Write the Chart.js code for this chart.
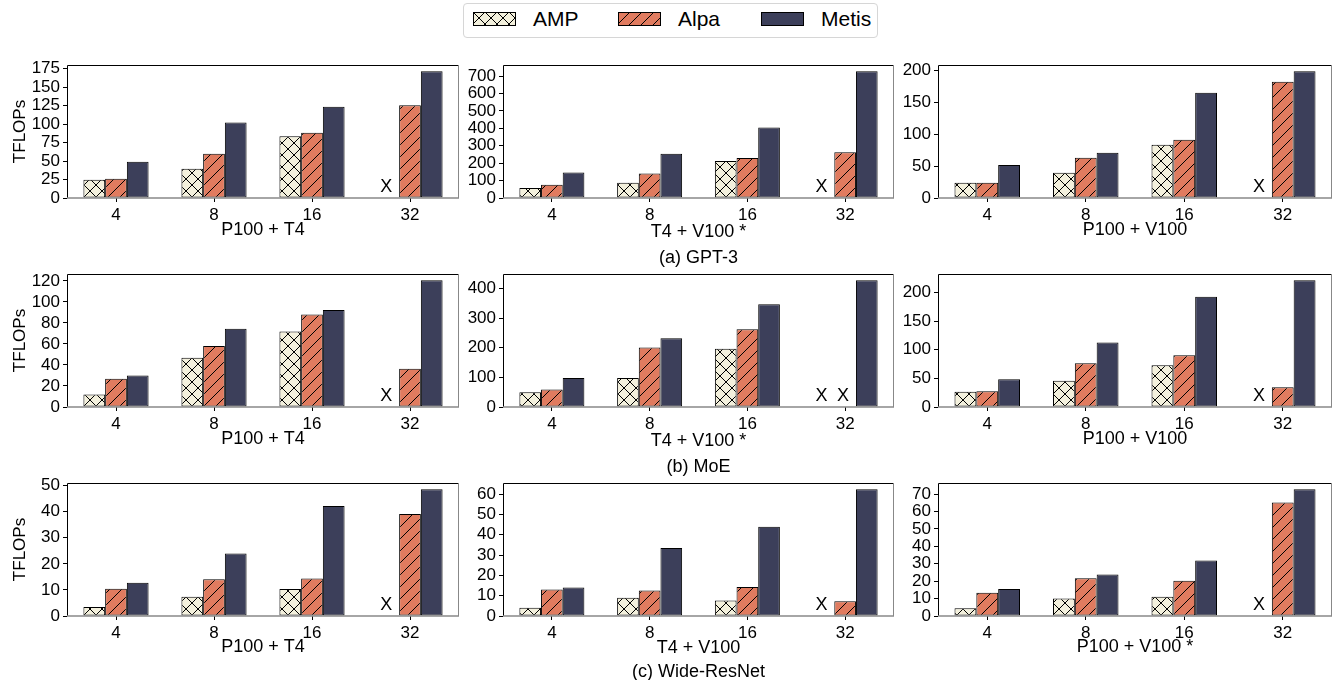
<!DOCTYPE html>
<html>
<head>
<meta charset="utf-8">
<script src="https://cdn.jsdelivr.net/npm/chart.js@4.4.1/dist/chart.umd.min.js"></script>
<style>
  body { margin: 0; background: #fff; }
  #page { position: relative; width: 1336px; height: 680px; overflow: hidden; font-family: "Liberation Sans", Arial, sans-serif; }
  canvas.panel { position: absolute; }
  #legend { position: absolute; left: 463px; top: 3px; width: 413px; height: 33px; border: 1px solid #d6d6d6; border-radius: 4px; background: #fff; }
  .item { position: absolute; top: 0; height: 29px; display: flex; align-items: center; font-size: 21px; color: #000; }
  .item canvas { margin-right: 17px; }
</style>
</head>
<body>
<div id="page">
  <div id="legend"></div>
</div>
<script>
// GPU counts on the x axis
const categories = ['4', '8', '16', '32'];
const systems = ['AMP', 'Alpa', 'Metis'];

// TFLOPs per panel: [AMP, Alpa, Metis], 0 = could not run (drawn as "X")
const gpt3P100T4 = [[24.8, 39.7, 83.4, 0], [26, 60, 88.4, 125.4], [49, 102, 123.6, 171.4]];
const gpt3T4V100 = [[57, 88, 212, 0], [76.5, 140, 229.5, 262], [147, 254, 405, 727]];
const gpt3P100V100 = [[24, 39.7, 83.5, 0], [24, 63, 91.4, 182], [51.7, 71, 165, 198.4]];
const moeP100T4 = [[11.8, 47, 72, 0], [27, 58, 88, 36.3], [30, 74.5, 92.3, 120.6]];
const moeT4V100 = [[49.6, 98, 196, 0], [58.6, 200.6, 262.5, 0], [98, 232, 346, 427]];
const moeP100V100 = [[26.8, 46, 72.9, 0], [27.4, 76.4, 90.4, 34.4], [48.4, 112.5, 192.4, 221]];
const wrnP100T4 = [[3.5, 7.4, 10.4, 0], [10.5, 14.1, 14.4, 39.1], [12.8, 24, 42.2, 48.6]];
const wrnT4V100 = [[4.1, 9, 7.6, 0], [13, 12.5, 14.3, 7.2], [14, 33.4, 43.9, 62.3]];
const wrnP100V100 = [[4.4, 10, 11.1, 0], [13.4, 21.7, 20.3, 65.2], [15.5, 23.8, 31.8, 72.7]];

const panels = [gpt3P100T4, gpt3T4V100, gpt3P100V100, moeP100T4, moeT4V100, moeP100V100, wrnP100T4, wrnT4V100, wrnP100V100];
const clusterLabels = ['P100 + T4', 'T4 + V100 *', 'P100 + V100', 'P100 + T4', 'T4 + V100 *', 'P100 + V100', 'P100 + T4', 'T4 + V100', 'P100 + V100 *'];
const modelLabels = ['(a) GPT-3', '(b) MoE', '(c) Wide-ResNet'];
const tickSteps = [25, 100, 50, 20, 100, 50, 10, 10, 10];

const FONT = '"Liberation Sans", Arial, sans-serif';
Chart.defaults.font.family = FONT;
Chart.defaults.color = '#000';

const fills = ['#f3f0dc', '#e07b5f', '#3c3f5a'];
const hatches = ['x', '/', ''];

function hatch(bg, kind) {
  const c = document.createElement('canvas');
  c.width = 12; c.height = 12;
  const g = c.getContext('2d');
  g.fillStyle = bg;
  g.fillRect(0, 0, 12, 12);
  if (kind) {
    g.strokeStyle = '#000';
    g.lineWidth = 1;
    g.beginPath();
    g.moveTo(0, 12); g.lineTo(12, 0);
    g.moveTo(-6, 6); g.lineTo(6, -6);
    g.moveTo(6, 18); g.lineTo(18, 6);
    if (kind === 'x') {
      g.moveTo(0, 0); g.lineTo(12, 12);
      g.moveTo(-6, 6); g.lineTo(6, 18);
      g.moveTo(6, -6); g.lineTo(18, 6);
    }
    g.stroke();
  }
  return g.createPattern(c, 'repeat');
}
const patterns = fills.map((f, i) => hatch(f, hatches[i]));

// legend
const legend = document.getElementById('legend');
const legendX = [9, 154, 297];
systems.forEach((name, i) => {
  const item = document.createElement('div');
  item.className = 'item';
  item.style.left = legendX[i] + 'px';
  const sw = document.createElement('canvas');
  sw.width = 43; sw.height = 14;
  const g = sw.getContext('2d');
  g.fillStyle = patterns[i];
  g.fillRect(0, 0, 43, 14);
  g.strokeStyle = '#000';
  g.strokeRect(0.5, 0.5, 42, 13);
  item.appendChild(sw);
  item.appendChild(document.createTextNode(name));
  legend.appendChild(item);
});

// frame around each plot + "X" for missing runs
const framePlugin = {
  id: 'frame',
  afterDatasetsDraw(chart) {
    const { ctx, chartArea: a } = chart;
    const l = Math.round(a.left) + 0.5, r = Math.round(a.right) - 0.5;
    const t = Math.round(a.top) + 0.5, b = Math.round(a.bottom);
    ctx.save();
    ctx.lineWidth = 1;
    ctx.strokeStyle = '#000';
    ctx.beginPath();
    ctx.moveTo(l, b); ctx.lineTo(l, t); ctx.lineTo(r, t);
    ctx.stroke();
    ctx.strokeStyle = '#888';
    ctx.beginPath();
    ctx.moveTo(r, t); ctx.lineTo(r, b);
    ctx.stroke();
    ctx.lineWidth = 1.5;
    ctx.beginPath();
    ctx.moveTo(l - 0.5, b); ctx.lineTo(r + 0.5, b);
    ctx.stroke();

    const y0 = chart.scales.y.getPixelForValue(0);
    ctx.fillStyle = '#000';
    ctx.font = '18px ' + FONT;
    ctx.textAlign = 'center';
    ctx.textBaseline = 'alphabetic';
    chart.data.datasets.forEach((ds, i) => {
      const meta = chart.getDatasetMeta(i);
      ds.data.forEach((v, j) => {
        if (v === 0) ctx.fillText('X', meta.data[j].x - 2, y0 - 6);
      });
    });
    ctx.restore();
  }
};

const colLeft = [0, 462, 897];
const colWidth = [462, 435, 439];
const axisWidth = [67, 41, 41];
const padRight = [3, 3, 4];
const plotTop = [65, 274, 483];
const plotH = 133;
const page = document.getElementById('page');

panels.forEach((series, p) => {
  const row = Math.floor(p / 3), col = p % 3;
  const titleLH = col === 1 ? (row < 2 ? 1.45 : 1.33) : 1.4;
  const xH = col === 1 ? (row < 2 ? 88 : 84) : 60;
  const H = 12 + plotH + xH;
  const cv = document.createElement('canvas');
  cv.className = 'panel';
  cv.width = colWidth[col]; cv.height = H;
  cv.style.left = colLeft[col] + 'px';
  cv.style.top = (plotTop[row] - 12) + 'px';
  cv.style.width = colWidth[col] + 'px';
  cv.style.height = H + 'px';
  page.appendChild(cv);

  const peak = Math.max(...series.flat());
  const tickGrid = { display: true, drawOnChartArea: false, drawTicks: true, tickLength: 4, color: '#000', offset: false };

  new Chart(cv, {
    type: 'bar',
    data: {
      labels: categories,
      datasets: systems.map((name, i) => ({
        label: name,
        data: series[i],
        backgroundColor: patterns[i],
        borderColor: '#000',
        borderWidth: 1,
        borderSkipped: false,
        categoryPercentage: 0.665,
        barPercentage: 1.0
      }))
    },
    options: {
      responsive: false,
      animation: false,
      devicePixelRatio: 1,
      layout: { padding: { top: 12, right: padRight[col], left: 0, bottom: 0 } },
      plugins: { legend: { display: false }, tooltip: { enabled: false } },
      scales: {
        x: {
          grid: tickGrid,
          border: { display: false },
          ticks: { padding: 3, font: { size: 17 }, maxRotation: 0 },
          title: {
            display: true,
            text: col === 1 ? [clusterLabels[p], modelLabels[row]] : clusterLabels[p],
            font: { size: 18, lineHeight: titleLH },
            padding: { top: 0, bottom: row < 2 ? 15 : 16 }
          },
          afterFit: s => { s.height = xH; }
        },
        y: {
          min: 0,
          max: peak * 1.05,
          grid: tickGrid,
          border: { display: false },
          ticks: { stepSize: tickSteps[p], includeBounds: false, autoSkip: false, padding: 3, font: { size: 17, lineHeight: 1 } },
          title: { display: col === 0, text: 'TFLOPs', font: { size: 17 }, padding: { top: 10, bottom: 0 } },
          afterFit: s => { s.width = axisWidth[col]; }
        }
      }
    },
    plugins: [framePlugin]
  });
});
</script>
</body>
</html>
